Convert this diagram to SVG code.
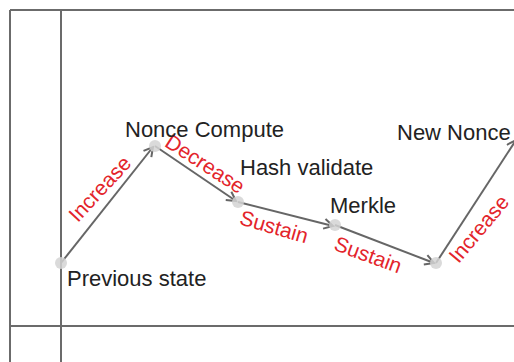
<svg xmlns="http://www.w3.org/2000/svg" width="514" height="362" viewBox="0 0 514 362">
<style>
.frame{stroke:#6b6b6b;stroke-width:2;fill:none}
.conn{stroke:#666;stroke-width:2;fill:none;marker-end:url(#arr)}
.pt{fill:#d4d4d4;opacity:0.85}
.lbl{font-family:"Liberation Sans",Arial,sans-serif;font-size:22px;fill:#222}
.rl{font-family:"Liberation Sans",Arial,sans-serif;font-size:21px;fill:#e3242b;text-anchor:middle}
</style>
<defs>
<marker id="arr" markerUnits="userSpaceOnUse" markerWidth="14" markerHeight="14" refX="11" refY="6" orient="auto">
<path d="M2,1 L11,6 L2,11" fill="none" stroke="#666" stroke-width="2"/>
</marker>
</defs>
<rect width="514" height="362" fill="#fff"/>
<g id="frame">
<line class="frame" x1="10" y1="10" x2="514" y2="10"/>
<line class="frame" x1="10" y1="10" x2="10" y2="362"/>
<line class="frame" x1="61" y1="10" x2="61" y2="362"/>
<line class="frame" x1="10" y1="326" x2="514" y2="326"/>
</g>
<g id="connectors">
<line class="conn" x1="61" y1="263" x2="153" y2="147"/>
<line class="conn" x1="155" y1="146" x2="236" y2="201"/>
<line class="conn" x1="238" y1="202" x2="333" y2="226"/>
<line class="conn" x1="335" y1="225" x2="434" y2="263"/>
<line class="conn" x1="436" y1="263" x2="516" y2="140"/>
</g>
<g id="edge-labels">
<text class="rl" transform="translate(100,189) rotate(-47)" y="7">Increase</text>
<text class="rl" transform="translate(205,164) rotate(33)" y="7">Decrease</text>
<text class="rl" transform="translate(274,227) rotate(16)" y="7">Sustain</text>
<text class="rl" transform="translate(368,255) rotate(20)" y="7">Sustain</text>
<text class="rl" transform="translate(479,229) rotate(-50)" y="7">Increase</text>
</g>
<g id="node-previous"><circle class="pt" cx="61" cy="263" r="6"/><text class="lbl" x="67" y="286">Previous state</text></g>
<g id="node-nonce"><circle class="pt" cx="155" cy="146" r="6"/><text class="lbl" x="125" y="137">Nonce Compute</text></g>
<g id="node-hash"><circle class="pt" cx="238" cy="202" r="6"/><text class="lbl" x="240" y="175">Hash validate</text></g>
<g id="node-merkle"><circle class="pt" cx="335" cy="225" r="6"/><text class="lbl" x="330" y="213">Merkle</text></g>
<g id="node-low"><circle class="pt" cx="436" cy="263" r="6"/></g>
<g id="node-new"><text class="lbl" x="397" y="140">New Nonce</text></g>
</svg>
